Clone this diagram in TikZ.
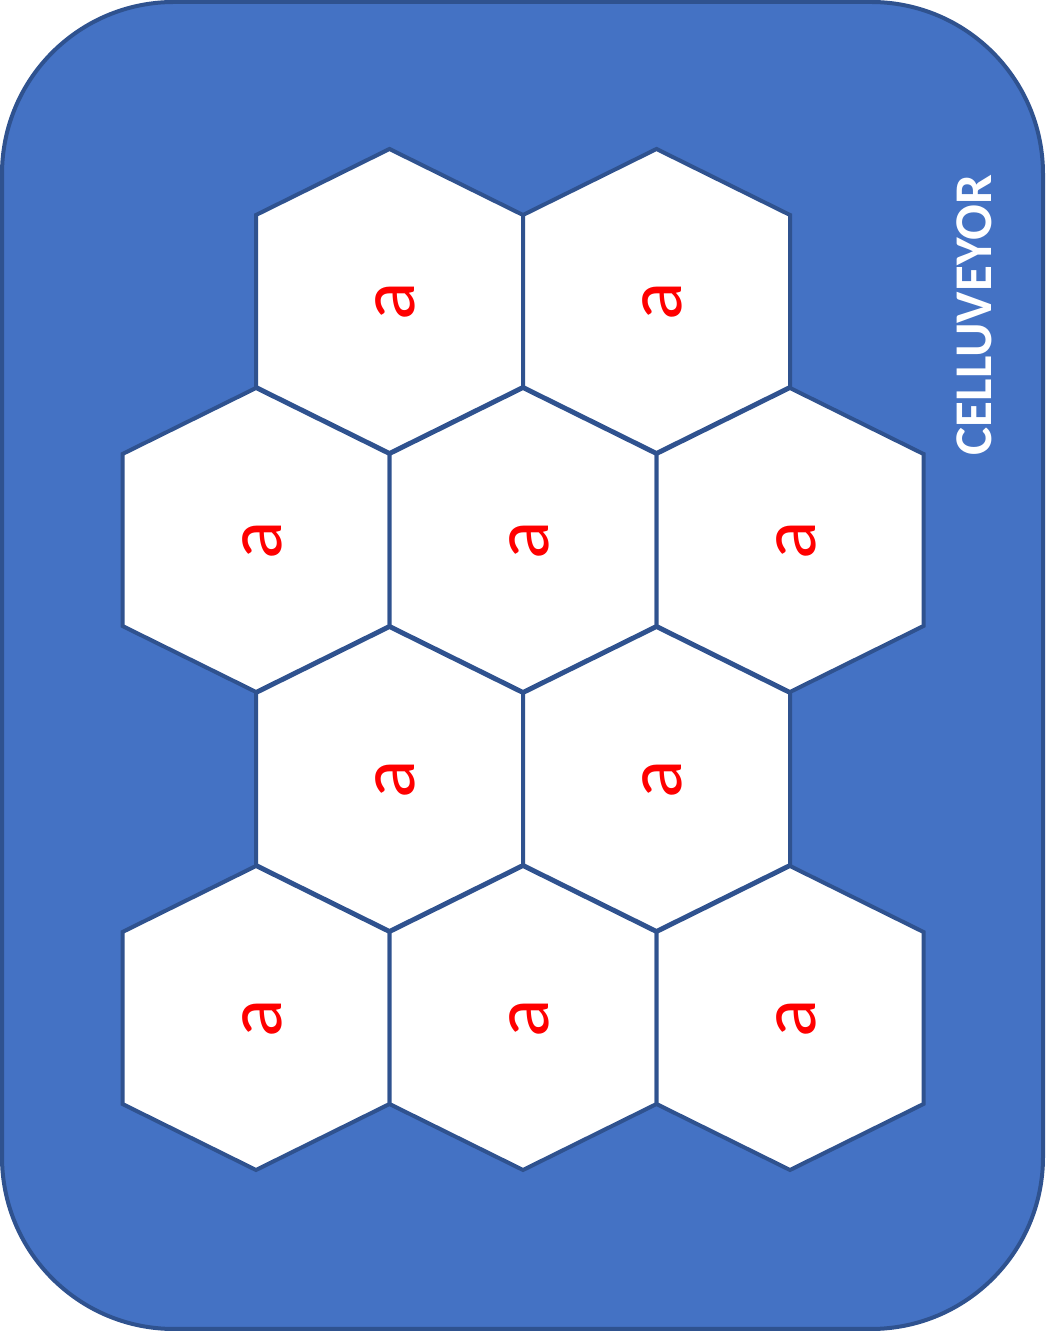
\documentclass[tikz,border=0pt]{standalone}
\usepackage{fontspec}
\setmainfont{Carlito}
\definecolor{cellblue}{HTML}{4472C4}
\definecolor{celledge}{HTML}{2F528F}
\begin{document}
\begin{tikzpicture}[x=1pt, y=1pt,
      frame/.style={draw=celledge, line width=4pt, fill=cellblue, rounded corners=172pt},
      hexcell/.style={draw=celledge, line width=4pt, fill=white, line join=miter},
      celltext/.style={text=red, font=\fontsize{80}{80}\selectfont, rotate=90, inner sep=0pt},
      title/.style={text=white, font=\fontsize{53}{53}\selectfont\bfseries, rotate=90, inner sep=0pt}
  ]
  \useasboundingbox (0,0) rectangle (1045,1331);

  % Frame
  \draw[frame] (2,2) rectangle (1043,1329);

  % Cells (rows from top to bottom)
  \foreach \cx/\cy/\n in {389.5/1030/1, 656.5/1030/2,
                          256/791/3, 523/791/4, 790/791/5,
                          389.5/552/6, 656.5/552/7,
                          256/313/8, 523/313/9, 790/313/10} {
    \draw[hexcell] (\cx,\cy) ++(0,152) -- ++(133.5,-66) -- ++(0,-172) -- ++(-133.5,-66)
      -- ++(-133.5,66) -- ++(0,172) -- cycle;
    \node[celltext] (cell\n) at (\cx+6,\cy) {a};
  }

  % Title
  \node[title] (name) at (974,1016) {CELLUVEYOR};

\end{tikzpicture}
\end{document}
